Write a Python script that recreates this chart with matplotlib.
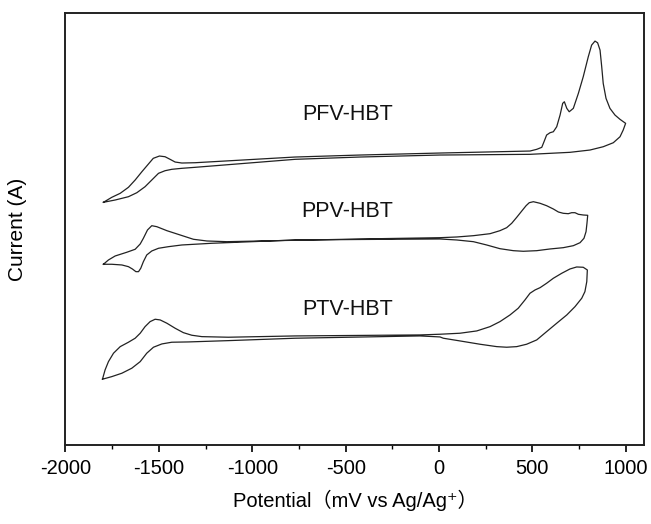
import matplotlib
matplotlib.use("Agg")
import matplotlib.pyplot as plt

plt.rcParams['font.family'] = ['Liberation Sans', 'Noto Sans CJK SC', 'DejaVu Sans']
plt.rcParams['axes.unicode_minus'] = False

# potential (mV) / current (arb. units), each CV loop traced forward then back
pfv_x = [-1797, -1752, -1707, -1663, -1627, -1591, -1556, -1530, -1497, -1467, -1440, -1413,
         -1377, -1306, -771, -423, 5, 487, 523, 550, 562, 576, 594, 612, 630, 648, 662,
         671, 684, 697, 719, 746, 772, 799, 817, 835, 849, 862, 871, 879, 894, 915, 942,
         969, 999,
         986, 969, 933, 879, 808, 701, 594, 487, 5, -423, -771, -1038, -1306, -1377,
         -1431, -1467, -1502, -1538, -1574, -1618, -1663, -1734, -1797]
pfv_y = [242.7, 247.7, 251.7, 257.7, 265, 273.3, 281, 286.7, 289, 288.3, 285.7, 283,
         282, 282.3, 288, 290, 292, 294, 295.7, 297.7, 303.3, 310, 312.3, 313.3, 318.3, 330, 341.7,
         343.3, 336.7, 333.3, 336.7, 351.7, 368.3, 388.3, 400, 404, 402.3, 395, 378.3, 361.7, 346.7, 336.7, 330,
         325.7, 321.7,
         315, 308.3, 302.3, 298.3, 295, 292.7, 291.7, 290.7, 290, 288, 285.7, 281.7, 277.7, 276.7,
         275.7, 274.3, 271.7, 265, 258.3, 252.3, 248.3, 245, 242.7]

ppv_x = [-1797, -1770, -1734, -1672, -1627, -1600, -1583, -1561, -1538, -1511, -1457, -1386,
         -1315, -1243, -1136, -958, -423, 5, 95, 184, 273, 326, 362, 389, 416, 443, 466,
         483, 505, 541, 576, 612, 639, 665, 692, 710, 728, 746, 772, 796,
         792, 787, 776, 755, 719, 665, 594, 523, 451, 398, 326, 255, 184, 95, 5, -423,
         -771, -1217, -1377, -1449, -1502, -1538, -1565, -1583, -1597, -1609, -1623,
         -1642, -1663, -1698, -1752, -1797]
ppv_y = [180.7, 185, 189, 192.7, 195.7, 201, 206.7, 215, 219.3, 218.3, 214.3, 210,
         205.7, 204, 203.3, 204, 206, 207.3, 208, 209.3, 211.3, 214.3, 217.3, 221.7, 227.7, 234, 239.3,
         242.3, 243.3, 241.7, 239.3, 236, 233, 231.7, 231.3, 232.3, 232.3, 230.7, 230, 229.7,
         221.7, 213.3, 206.7, 202.3, 199.3, 197.3, 196, 194.3, 193.7, 194.3, 196.3, 200, 203.3, 205, 206, 205.5,
         205, 201.7, 200, 198.3, 196.7, 194, 190, 183.3, 176.7, 173.3, 173.3,
         176, 178.3, 180, 180.7, 180.7]

ptv_x = [-1802, -1788, -1770, -1743, -1707, -1663, -1627, -1600, -1574, -1547, -1520, -1493,
         -1457, -1413, -1369, -1324, -1270, -1128, -771, -102, 5, 112, 202, 273, 326, 380,
         424, 460, 487, 514, 541, 576, 612, 657, 701, 737, 772, 794,
         791, 781, 764, 728, 684, 630, 576, 523, 469, 416, 362, 309, 219, 112, 23, 5,
         -102, -771, -1128, -1342, -1431, -1484, -1529, -1565, -1600, -1645, -1698, -1752, -1802]
ptv_y = [65.7, 75, 83.3, 91.7, 98.3, 102.7, 106.7, 111.7, 118.3, 123.3, 125.7, 125,
         121.7, 116.7, 112.3, 109.7, 108.3, 107.7, 109, 110, 110.7, 111.7, 114, 118.3, 123.3, 130,
         136.7, 145, 151.7, 155, 157.3, 161.7, 166.7, 171.7, 176, 178, 177.7, 175,
         163.3, 153.3, 146.7, 138.3, 130, 121.7, 113.3, 105, 100.7, 98.3, 97.7, 98.3, 100.7, 104, 106.7, 108,
         109, 106.7, 104.3, 103, 102.7, 101, 97.7, 91.7, 83.3, 76.7, 71.7, 68.3, 65.7]

labels = ['PFV-HBT', 'PPV-HBT', 'PTV-HBT']
label_x = [-490, -490, -490]
label_y = [331, 233, 135]

fig = plt.figure(figsize=(6.51, 5.24), dpi=100)
ax = fig.add_axes([0.1006, 0.151, 0.8894, 0.824])

for xs, ys in [(pfv_x, pfv_y), (ppv_x, ppv_y), (ptv_x, ptv_y)]:
    ax.plot(xs, ys, color='#222222', lw=0.9)

for t, lx, ly in zip(labels, label_x, label_y):
    ax.text(lx, ly, t, ha='center', va='center', fontsize=15.5, color='#111111')

ax.set_xlim(-2000, 1100)
ax.set_ylim(0, 432)
ax.set_xticks([-2000, -1500, -1000, -500, 0, 500, 1000])
ax.set_xticks(range(-1750, 1100, 500), minor=True)
ax.set_yticks([])
ax.tick_params(axis='x', which='major', direction='out', length=5, width=1.2, labelsize=14.5, pad=5)
ax.tick_params(axis='x', which='minor', direction='out', length=3, width=1.0)
for s in ax.spines.values():
    s.set_linewidth(1.4)
    s.set_color('#222222')

ax.set_xlabel('Potential（mV vs Ag/Ag⁺）', fontsize=14.5, labelpad=9)
ax.set_ylabel('Current (A)', fontsize=15, labelpad=28)

fig.savefig('out.png', dpi=100)
